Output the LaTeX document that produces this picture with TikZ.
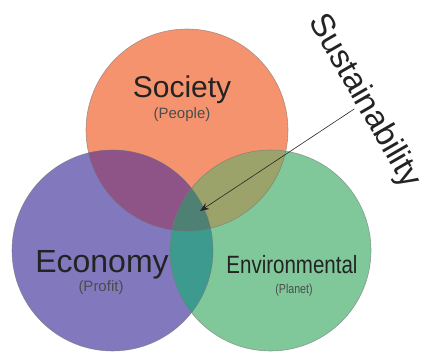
\documentclass[tikz,border=0pt]{standalone}
\usepackage{fontspec}
\usetikzlibrary{arrows.meta}
\setmainfont{Liberation Sans}
\newfontfamily\narrowfont[FakeStretch=0.82]{Liberation Sans}
\definecolor{socfill}{RGB}{245,147,111}
\definecolor{ecofill}{RGB}{129,120,190}
\definecolor{envfill}{RGB}{128,200,154}
\definecolor{ecosoc}{RGB}{142,84,135}
\definecolor{socenv}{RGB}{156,163,106}
\definecolor{ecoenv}{RGB}{61,154,142}
\definecolor{allthree}{RGB}{79,128,116}
\definecolor{txt}{RGB}{35,35,35}
\tikzset{
  ring/.style={draw=black!55, draw opacity=0.6, line width=0.6pt},
  big/.style={font=\fontsize{#1}{#1}\selectfont, text=txt, inner sep=0pt},
  small/.style={font=\fontsize{15}{15}\selectfont, text=black!70, inner sep=0pt}
}
\begin{document}
\begin{tikzpicture}[x=1pt,y=1pt]
        \useasboundingbox (0,0) rectangle (427,354);
        \clip (0,0) rectangle (427,354);
        \coordinate (soc) at (187,224);
        \coordinate (eco) at (112.5,103.5);
        \coordinate (env) at (270.5,103.5);
        \fill [socfill] (soc) circle (101);
        \fill [ecofill] (eco) circle (100.5);
        \fill [envfill] (env) circle (100.5);
        \begin{scope}
          \clip (soc) circle (101);
          \fill [ecosoc] (eco) circle (100.5);
          \fill [socenv] (env) circle (100.5);
        \end{scope}
        \begin{scope}
          \clip (eco) circle (100.5);
          \fill [ecoenv] (env) circle (100.5);
          \clip (env) circle (100.5);
          \fill [allthree] (soc) circle (101);
        \end{scope}
        \draw [ring] (soc) circle (101);
        \draw [ring] (eco) circle (100.5);
        \draw [ring] (env) circle (100.5);
        \node [big=30, anchor=base] (society) at (182,257) {Society};
        \node [small] (people) at (182,239) {(People)};
        \node [big=32, anchor=base] (economy) at (102,82) {Economy};
        \node [small] (profit) at (101,66) {(Profit)};
        \node [big=25, anchor=base, font=\narrowfont\fontsize{25}{25}\selectfont] (environmental) at (292,81) {Environmental};
        \node [small, font=\narrowfont\fontsize{13}{13}\selectfont] (planet) at (294,64) {(Planet)};
        \node [big=33, rotate=-60] (sust) at (364,253) {Sustainability};
        \coordinate (centre) at (200,143);
        \draw [-{Stealth[length=9pt,width=7pt]}, line width=0.6pt, black!85] ([xshift=4pt]sust.south) -- (centre);
      \end{tikzpicture}
\end{document}
